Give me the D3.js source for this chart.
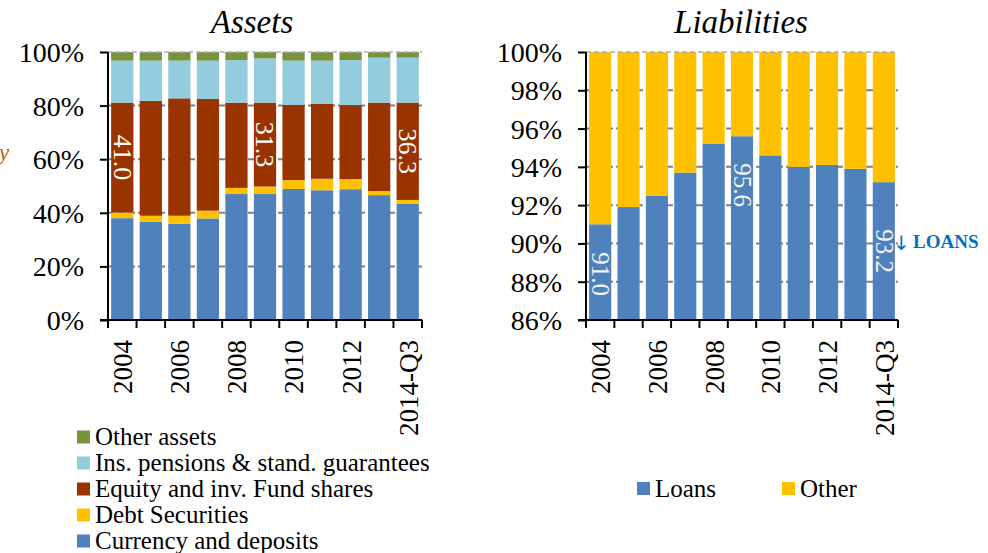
<!DOCTYPE html>
<html>
<head>
<meta charset="utf-8">
<script src="https://cdn.jsdelivr.net/npm/d3@7/dist/d3.min.js"></script>
<style>
  body { margin: 0; background: #fff; }
  text { font-family: "Liberation Serif", serif; fill: #000; }
</style>
</head>
<body>
<div id="chart"></div>
<script>
var years = ["2004", "2005", "2006", "2007", "2008", "2009", "2010", "2011", "2012", "2013", "2014-Q3"];
var tickYears = ["2004", "2006", "2008", "2010", "2012", "2014-Q3"];

// assets, % of total
var currency = [38.0, 36.7, 35.9, 37.9, 47.0, 47.0, 48.9, 48.4, 48.8, 46.6, 43.3];
var debtSec = [2.1, 2.2, 3.0, 2.9, 2.3, 2.8, 3.3, 4.3, 3.8, 1.5, 1.5];
var equity = [41.0, 42.9, 43.8, 41.7, 31.8, 31.3, 28.1, 27.9, 27.6, 33.0, 36.3];
var insurance = [15.7, 15.0, 14.1, 14.3, 15.9, 16.5, 16.5, 16.2, 16.8, 16.8, 16.8];
var otherAssets = [3.2, 3.2, 3.2, 3.2, 3.0, 2.4, 3.2, 3.2, 3.0, 2.1, 2.1];

// liabilities, % of total
var loans = [91.0, 91.9, 92.5, 93.7, 95.2, 95.6, 94.6, 94.0, 94.1, 93.9, 93.2];
var otherLiab = [9.0, 8.1, 7.5, 6.3, 4.8, 4.4, 5.4, 6.0, 5.9, 6.1, 6.8];

var assetKeys = ["currency", "debt", "equity", "ins", "other"];
var assetNames = ["Currency and deposits", "Debt Securities", "Equity and inv. Fund shares",
  "Ins. pensions & stand. guarantees", "Other assets"];
var assetColors = ["#4f81bd", "#ffc000", "#993300", "#93cddd", "#77933c"];

var liabKeys = ["loans", "other"];
var liabNames = ["Loans", "Other"];
var liabColors = ["#4f81bd", "#ffc000"];

// labelled bars
var equityLabels = ["2004", "2009", "2014-Q3"];
var loanLabels = [
  { year: "2004", at: 88.4 },
  { year: "2009", at: 93.05 },
  { year: "2014-Q3", at: 89.6 },
];

var assetRows = years.map((y, i) => ({
  year: y, currency: currency[i], debt: debtSec[i], equity: equity[i],
  ins: insurance[i], other: otherAssets[i],
}));
var liabRows = years.map((y, i) => ({ year: y, loans: loans[i], other: otherLiab[i] }));

var width = 988, height = 553;
var svg = d3.select("#chart").append("svg").attr("width", width).attr("height", height);

var plotTop = 52, plotBottom = 320;

function panel(opts) {
  var g = svg.append("g");
  var x = d3.scaleBand().domain(years).range([opts.x0, opts.x1]).paddingInner(0.22).paddingOuter(0.11);
  var y = d3.scaleLinear().domain(opts.domain).range([plotBottom, plotTop]).clamp(true);

  // grid
  g.selectAll(".grid").data(opts.ticks.slice(1, -1)).enter().append("line")
    .attr("x1", opts.x0).attr("x2", opts.x1)
    .attr("y1", (d) => y(d)).attr("y2", (d) => y(d))
    .attr("stroke", "#808080").attr("stroke-width", 2).attr("stroke-dasharray", "7,3");

  var series = d3.stack().keys(opts.keys)(opts.rows);
  g.selectAll(".layer").data(series).enter().append("g")
    .attr("fill", (d, i) => opts.colors[i])
    .selectAll("rect").data((d) => d).enter().append("rect")
    .attr("x", (d) => x(d.data.year))
    .attr("width", x.bandwidth())
    .attr("y", (d) => y(d[1]))
    .attr("height", (d) => y(d[0]) - y(d[1]));

  // top line
  g.append("line").attr("x1", opts.x0).attr("x2", opts.x1).attr("y1", plotTop).attr("y2", plotTop)
    .attr("stroke", "#b0b0b0").attr("stroke-width", 1.5).attr("stroke-dasharray", "5,3");

  // y axis
  var yAxis = d3.axisLeft(y).tickValues(opts.ticks).tickSize(8).tickPadding(16)
    .tickFormat((d) => d + "%");
  var ya = g.append("g").attr("transform", `translate(${opts.x0},0)`).call(yAxis);
  ya.select(".domain").attr("stroke", "#000").attr("stroke-width", 2).attr("d", `M0,${plotTop}V${plotBottom}`);
  ya.selectAll(".tick line").attr("stroke", "#000").attr("stroke-width", 2);
  ya.selectAll(".tick text").style("font-family", "Liberation Serif").style("font-size", "28px")
    .attr("fill", "#000").attr("dy", "0.34em");

  // x axis
  var xa = g.append("g").attr("transform", `translate(0,${plotBottom})`);
  xa.append("line").attr("x1", opts.x0 - 8).attr("x2", opts.x1).attr("stroke", "#000").attr("stroke-width", 2);
  var edges = years.map((d) => x(d) - (x.step() - x.bandwidth()) / 2).concat([opts.x1]);
  xa.selectAll(".xt").data(edges).enter().append("line")
    .attr("x1", (d) => d).attr("x2", (d) => d).attr("y1", 0).attr("y2", 8)
    .attr("stroke", "#000").attr("stroke-width", 2);
  xa.selectAll(".xl").data(tickYears).enter().append("text")
    .attr("transform", (d) => `translate(${x(d) + x.bandwidth() / 2 + 1},20) rotate(-90)`)
    .attr("text-anchor", "end").attr("dy", "0.33em")
    .style("font-size", "27px").text((d) => d);

  // title
  g.append("text").attr("x", opts.titleX).attr("y", 33).attr("text-anchor", "middle")
    .style("font-size", "33px").style("font-style", "italic").text(opts.title);

  return { g: g, x: x, y: y, series: series };
}

var left = panel({
  x0: 108, x1: 422, domain: [0, 100], ticks: [0, 20, 40, 60, 80, 100],
  keys: assetKeys, rows: assetRows, colors: assetColors, title: "Assets", titleX: 252,
});

var right = panel({
  x0: 586, x1: 898, domain: [86, 100], ticks: [86, 88, 90, 92, 94, 96, 98, 100],
  keys: liabKeys, rows: liabRows, colors: liabColors, title: "Liabilities", titleX: 741,
});

// equity value labels, centred in the segment
var eqLayer = left.series[2];
left.g.selectAll(".eql").data(eqLayer.filter((d) => equityLabels.includes(d.data.year)))
  .enter().append("text")
  .attr("transform", (d) => `translate(${left.x(d.data.year) + left.x.bandwidth() / 2},${(left.y(d[0]) + left.y(d[1])) / 2}) rotate(90)`)
  .attr("text-anchor", "middle").attr("dy", "0.33em")
  .style("font-size", "26px").style("fill", "#fff")
  .text((d) => d3.format(".1f")(d.data.equity));

// loan value labels
right.g.selectAll(".ll").data(loanLabels).enter().append("text")
  .attr("transform", (d) => `translate(${right.x(d.year) + right.x.bandwidth() / 2},${right.y(d.at)}) rotate(90)`)
  .attr("text-anchor", "middle").attr("dy", "0.33em")
  .style("font-size", "25px").style("fill", "#f2f2f2")
  .text((d) => d3.format(".1f")(loans[years.indexOf(d.year)]));

// annotation
svg.append("text").attr("x", 893).attr("y", 250)
  .style("font-family", "DejaVu Sans").style("font-size", "20px").style("fill", "#0070c0")
  .text("\u2193");
svg.append("text").attr("x", 913).attr("y", 248)
  .style("font-size", "19px").style("font-weight", "bold").style("fill", "#0070c0")
  .text("LOANS");

// cut-off text at the left edge
svg.append("text").attr("x", -1).attr("y", 160)
  .style("font-size", "23px").style("font-style", "italic").style("fill", "#c55a11").text("y");

// left legend (reverse order)
var legL = svg.append("g");
var legOrder = assetKeys.map((k, i) => i).reverse();
legOrder.forEach((idx, r) => {
  var cy = 437 + r * 26;
  legL.append("rect").attr("x", 77).attr("y", cy - 6.5).attr("width", 13).attr("height", 13)
    .attr("fill", assetColors[idx]);
  legL.append("text").attr("x", 95).attr("y", cy).attr("dy", "0.33em")
    .style("font-size", "25px").text(assetNames[idx]);
});

// right legend
var legR = svg.append("g");
var legX = [637, 782];
liabNames.forEach((n, i) => {
  legR.append("rect").attr("x", legX[i]).attr("y", 482).attr("width", 13).attr("height", 13)
    .attr("fill", liabColors[i]);
  legR.append("text").attr("x", legX[i] + 18).attr("y", 488.5).attr("dy", "0.33em")
    .style("font-size", "25px").text(n);
});
</script>
</body>
</html>
